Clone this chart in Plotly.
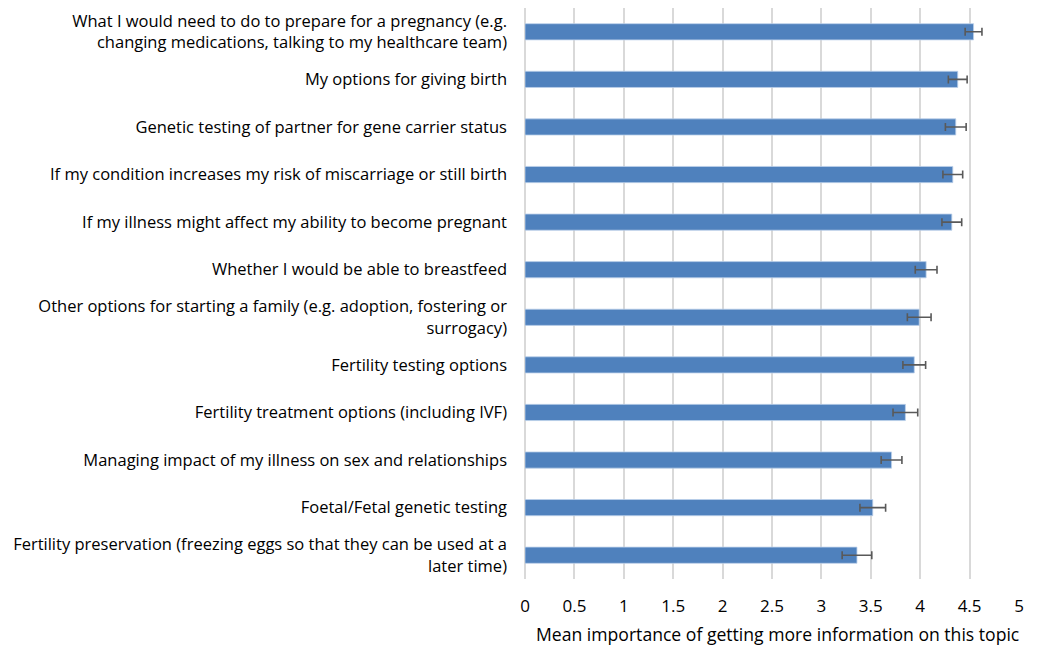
import plotly.graph_objects as go

categories = [
    "What I would need to do to prepare for a pregnancy (e.g.<br>changing medications, talking to my healthcare team)",
    "My options for giving birth",
    "Genetic testing of partner for gene carrier status",
    "If my condition increases my risk of miscarriage or still birth",
    "If my illness might affect my ability to become pregnant",
    "Whether I would be able to breastfeed",
    "Other options for starting a family (e.g. adoption, fostering or<br>surrogacy)",
    "Fertility testing options",
    "Fertility treatment options (including IVF)",
    "Managing impact of my illness on sex and relationships",
    "Foetal/Fetal genetic testing",
    "Fertility preservation (freezing eggs so that they can be used at a<br>later time)",
]
means = [4.54, 4.38, 4.36, 4.33, 4.32, 4.06, 3.99, 3.94, 3.85, 3.71, 3.52, 3.36]
errors = [0.085, 0.095, 0.105, 0.10, 0.10, 0.11, 0.12, 0.115, 0.125, 0.105, 0.13, 0.15]
tick_vals = [0, 0.5, 1, 1.5, 2, 2.5, 3, 3.5, 4, 4.5, 5]
tick_text = ["0", "0.5", "1", "1.5", "2", "2.5", "3", "3.5", "4", "4.5", "5"]
x_title = "Mean importance of getting more information on this topic"

fig = go.Figure(go.Bar(
    x=means, y=categories, orientation="h",
    marker=dict(color="#4F81BD", line=dict(color="#BCD0EA", width=0.8)),
    width=0.34,
    error_x=dict(type="data", array=errors, visible=True, color="#595959", thickness=1.6, width=4),
))

# page body has an 8px margin, so the figure is sized/offset to compensate
fig.update_layout(
    width=1032, height=637,
    margin=dict(l=517, r=21, t=0, b=66, autoexpand=False),
    plot_bgcolor="white", paper_bgcolor="white",
    font=dict(family="Open Sans", size=16, color="#000000"),
    showlegend=False,
    bargap=0.6,
)
fig.add_annotation(
    text=x_title, xref="paper", yref="paper", x=0.512, y=-0.096,
    xanchor="center", yanchor="middle", showarrow=False,
    font=dict(size=17.6, color="#000000"),
)
fig.update_xaxes(
    range=[0, 5.0], tickvals=tick_vals, ticktext=tick_text,
    showgrid=True, gridcolor="#D9D9D9", gridwidth=1.5,
    zeroline=True, zerolinecolor="#D9D9D9", zerolinewidth=1.5,
    ticks="", ticklabelstandoff=15,
    tickfont=dict(size=17),
    showline=False, automargin=False,
)
fig.update_yaxes(
    autorange="reversed", showgrid=False, ticks="", ticklabelstandoff=17,
    tickfont=dict(size=16.5),
    showline=False, automargin=False,
)

fig.write_html("out.html")
